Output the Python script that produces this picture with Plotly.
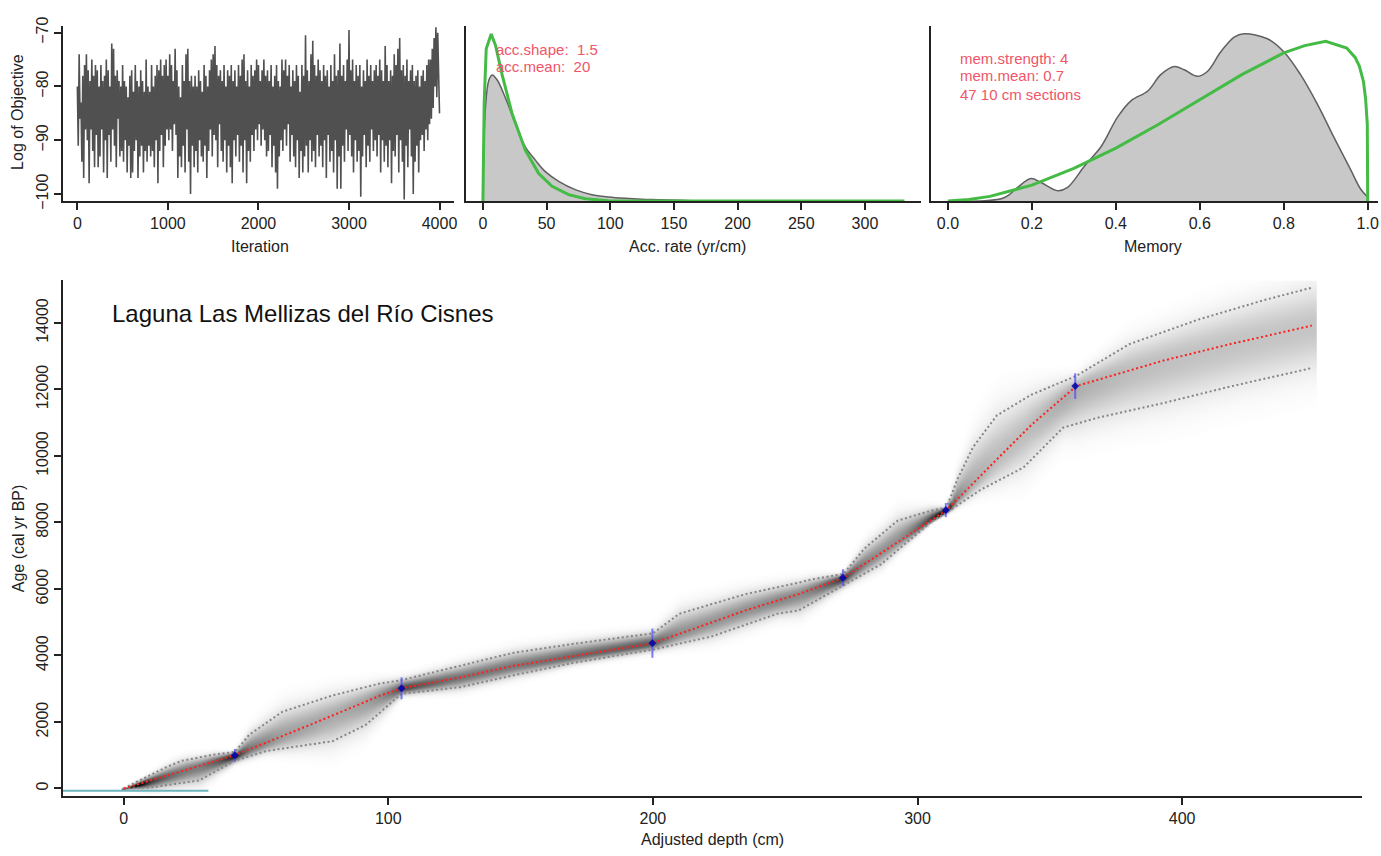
import numpy as np
import plotly.graph_objects as go

W, H = 1381, 856
FONT = "Liberation Sans, Arial, Helvetica, sans-serif"

# ---------------- data: MCMC trace (every 10 iterations) ----------------
iterations = list(range(0, 4001, 10))
log_objective = [
    -80, -91, -74, -86, -83, -94, -78, -97, -76, -88,
    -74, -90, -77, -98, -79, -88, -75, -92, -78, -95,
    -76, -89, -77, -95, -80, -93, -76, -88, -79, -96,
    -78, -90, -75, -97, -77, -89, -80, -94, -72, -88,
    -73, -91, -78, -95, -77, -86, -79, -93, -80, -92,
    -76, -94, -79, -90, -80, -96, -82, -91, -78, -97,
    -77, -96, -81, -92, -76, -90, -79, -97, -80, -93,
    -77, -91, -79, -96, -81, -92, -75, -94, -80, -91,
    -81, -93, -76, -92, -80, -95, -78, -90, -76, -98,
    -77, -92, -75, -89, -78, -95, -76, -91, -75, -88,
    -78, -90, -74, -88, -76, -92, -79, -87, -73, -89,
    -77, -97, -80, -93, -82, -95, -76, -91, -79, -96,
    -74, -88, -73, -94, -79, -100, -78, -91, -80, -95,
    -78, -92, -80, -96, -77, -90, -79, -93, -81, -94,
    -76, -91, -78, -97, -80, -92, -77, -88, -75, -93,
    -74, -89, -72.5, -90, -76, -95, -78, -87, -77, -92,
    -79, -94, -76, -90, -80, -96, -77, -91, -78, -95,
    -76, -98, -79, -90, -77, -93, -80, -89, -76, -94,
    -78, -91, -75, -96, -74, -90, -79, -98, -77, -92,
    -80, -94, -76, -89, -78, -92, -77, -88, -75, -90,
    -76, -87, -79, -91, -77, -88, -75, -90, -78, -93,
    -77, -92, -79, -89, -76, -95, -80, -91, -78, -96,
    -76, -99, -79, -93, -80, -90, -75, -92, -77, -88,
    -75, -91, -78, -87, -76, -94, -80, -89, -77, -93,
    -79, -95, -76, -90, -78, -97, -81, -92, -76, -96,
    -78, -93, -70.5, -91, -77, -96, -79, -90, -74, -94,
    -71.5, -92, -76, -95, -78, -89, -75, -93, -77, -91,
    -79, -95, -76, -90, -78, -97, -77, -89, -80, -94,
    -76, -92, -79, -96, -74, -90, -78, -99, -77, -93,
    -72, -99, -78, -91, -76, -94, -79, -88, -75, -92,
    -69.5, -89, -77, -93, -75, -96, -79, -90, -76, -94,
    -78, -92, -76, -100.5, -80, -93, -77, -89, -79, -95,
    -75, -91, -78, -94, -76, -88, -79, -92, -77, -90,
    -76, -93, -78, -89, -75, -96, -77, -90, -79, -94,
    -72.5, -91, -76, -95, -79, -90, -77, -98, -78, -92,
    -74, -93, -76, -89, -73, -96, -71, -90, -77, -94,
    -76, -101, -78, -91, -75, -95, -79, -88, -77, -93,
    -76, -100, -79, -94, -78, -91, -77, -96, -80, -90,
    -78, -89, -77, -92, -79, -88, -76, -90, -75, -87,
    -75, -86, -73, -84, -71, -80, -69, -82, -70, -76,
    -85,
]

# ---------------- data: accumulation rate ----------------
acc_post_x = [0, 2, 4.7, 7.3, 11.2, 17.7, 25.6, 33.4, 41.2, 49, 59.5, 72.5, 85.6, 98.6, 111.7, 124.7, 137.7, 163.8, 190]
acc_post_y = [0, 0.0203, 0.0263, 0.0274, 0.0263, 0.0224, 0.0167, 0.0117, 0.0089, 0.0064, 0.0043, 0.0025, 0.0014, 0.0009, 0.0006, 0.0004, 0.0003, 0.0001, 0]
acc_prior_x = [0, 1, 2.6, 6.5, 9.9, 15.1, 23, 33.4, 43.8, 54.3, 67.3, 80.4, 98.6, 130, 200, 331]
acc_prior_y = [0, 0.0215, 0.0331, 0.0363, 0.0338, 0.0274, 0.0189, 0.011, 0.006, 0.0032, 0.0014, 0.0005, 0.0001, 0, 0, 0]

# ---------------- data: memory ----------------
mem_post_x = [0.0, 0.087, 0.127, 0.143, 0.166, 0.198, 0.222, 0.262, 0.285, 0.325, 0.365, 0.404, 0.436, 0.476, 0.507, 0.539, 0.563, 0.594, 0.618, 0.65, 0.682, 0.705, 0.761, 0.8, 0.84, 0.88, 0.919, 0.959, 0.983, 1.0]
mem_post_y = [0, 0.004, 0.03, 0.07, 0.175, 0.287, 0.237, 0.133, 0.175, 0.445, 0.695, 1.069, 1.277, 1.402, 1.61, 1.714, 1.672, 1.589, 1.651, 1.901, 2.088, 2.13, 2.067, 1.901, 1.61, 1.235, 0.819, 0.403, 0.154, 0.05]
mem_prior_x = [0.0, 0.05, 0.1, 0.2, 0.3, 0.4, 0.5, 0.6, 0.7, 0.8, 0.85, 0.9, 0.95, 0.97, 0.98, 0.99, 0.995, 0.999, 1.0]
mem_prior_y = [0, 0.02, 0.06, 0.204, 0.416, 0.674, 0.973, 1.294, 1.61, 1.888, 1.98, 2.034, 1.95, 1.83, 1.72, 1.52, 1.3, 0.98, 0]

# ---------------- data: age-depth model ----------------
med_depth = [0, 42, 70, 96.5, 105, 127, 147, 175, 200, 235, 255, 272, 292.5, 311, 330, 343, 360, 393, 418, 449]
med_age = [0, 1002, 1900, 2780, 3012, 3340, 3684, 4040, 4370, 5355, 5845, 6337, 7418, 8372, 9900, 10930, 12100, 12870, 13360, 13920]

up_depth = [0, 3.5, 16, 22, 35, 42, 47.5, 60, 79, 96.5, 105, 127, 147, 170, 200, 210, 235, 255, 260, 272, 280, 292.5, 305, 311, 315, 321, 330, 343, 360, 380, 406, 431, 449]
up_age = [0, 147, 638, 835, 1032, 1100, 1621, 2309, 2800, 3150, 3260, 3684, 4076, 4350, 4666, 5255, 5845, 6189, 6287, 6450, 7220, 8055, 8350, 8450, 9283, 10265, 11220, 11840, 12408, 13360, 14097, 14686, 15060]

lo_depth = [0, 10, 28.6, 42, 54, 79, 91.5, 105, 127, 147, 170, 200, 222, 247, 255, 272, 286, 305, 311, 324, 340, 355, 368, 393, 418, 449]
lo_age = [0, 30, 245, 835, 1130, 1424, 1916, 2850, 3045, 3400, 3780, 4176, 4568, 5255, 5355, 6110, 6729, 8008, 8300, 8989, 9650, 10850, 11150, 11592, 12084, 12644]

date_depth = [42.0, 105.0, 199.8, 271.8, 310.7, 359.6]
date_age = [1000, 3012, 4370, 6337, 8372, 12100]
date_err = [190, 330, 440, 255, 210, 385]

surface_depth = [-23, 32]
surface_age = [-68, -68]

age_ticks = [0, 2000, 4000, 6000, 8000, 10000, 12000, 14000]
age_tick_labels = ["0", "2000", "4000", "6000", "8000", "10000", "12000", "14000"]
depth_ticks = [0, 100, 200, 300, 400]

title_text = "Laguna Las Mellizas del Río Cisnes"

# ---------------- helpers ----------------
def px_x(p):
    return p / W

def px_y(p):
    return 1 - p / H

axis_base = dict(showline=True, linecolor="#222", linewidth=1.5, ticks="outside", ticklen=7,
                 tickwidth=1.5, tickcolor="#222", showgrid=False, zeroline=False,
                 tickfont=dict(family=FONT, size=16, color="#222"), mirror=False)

fig = go.Figure()

# grey cloud of the age-depth model (density shading built from the read bounds)
dgrid = np.arange(0, 450.1, 1.5)
agrid = np.arange(-200, 15301, 30)
m = np.interp(dgrid, med_depth, med_age)
lo = np.interp(dgrid, lo_depth, lo_age)
up = np.interp(dgrid, up_depth, up_age)
sl = np.maximum((m - lo) / 1.5, 15)
su = np.maximum((up - m) / 1.5, 15)
hw = np.maximum((up - lo) / 2, 60)
A = agrid[:, None]
sd = np.where(A < m[None, :], sl[None, :], su[None, :])
dens = np.exp(-0.5 * ((A - m[None, :]) / sd) ** 2)
peak = np.minimum(1.0, 0.52 * (340.0 / hw) ** 0.65)
z = np.round(dens * peak[None, :], 3)
z[z < 0.004] = 0

fig.add_trace(go.Heatmap(x=dgrid, y=agrid, z=z, xaxis="x4", yaxis="y4", zmin=0, zmax=1,
                         colorscale=[[0, "rgb(255,255,255)"], [1, "rgb(0,0,0)"]],
                         showscale=False, zsmooth="best", hoverinfo="skip"))

# surface line
fig.add_trace(go.Scatter(x=surface_depth, y=surface_age, mode="lines", xaxis="x4", yaxis="y4",
                         line=dict(color="rgb(110,180,190)", width=2), hoverinfo="skip"))

dot = "2px,2.6px"
fig.add_trace(go.Scatter(x=up_depth, y=up_age, mode="lines", xaxis="x4", yaxis="y4",
                         line=dict(color="#858585", width=2, dash=dot)))
fig.add_trace(go.Scatter(x=lo_depth, y=lo_age, mode="lines", xaxis="x4", yaxis="y4",
                         line=dict(color="#858585", width=2, dash=dot)))
fig.add_trace(go.Scatter(x=med_depth, y=med_age, mode="lines", xaxis="x4", yaxis="y4",
                         line=dict(color="#ff2020", width=2, dash=dot)))

# dates
fig.add_trace(go.Scatter(x=date_depth, y=date_age, mode="markers", xaxis="x4", yaxis="y4",
                         marker=dict(symbol="line-ns", size=1, color="rgba(0,0,0,0)"),
                         error_y=dict(type="data", array=date_err, visible=True, width=0,
                                      thickness=2, color="rgba(80,80,255,0.75)")))
fig.add_trace(go.Scatter(x=date_depth, y=date_age, mode="markers", xaxis="x4", yaxis="y4",
                         marker=dict(symbol="diamond", size=6, color="rgba(0,0,170,0.85)",
                                     line=dict(width=0))))

# panel 1: trace
fig.add_trace(go.Scatter(x=iterations, y=log_objective, mode="lines", xaxis="x", yaxis="y",
                         line=dict(color="#505050", width=1.6)))

# panel 2: acc rate
fig.add_trace(go.Scatter(x=acc_post_x, y=acc_post_y, mode="lines", fill="tozeroy", xaxis="x2", yaxis="y2",
                         fillcolor="#c8c8c8", line=dict(color="#606060", width=1.5, shape="spline")))
fig.add_trace(go.Scatter(x=acc_prior_x, y=acc_prior_y, mode="lines", xaxis="x2", yaxis="y2",
                         line=dict(color="#44bb44", width=3)))

# panel 3: memory
fig.add_trace(go.Scatter(x=mem_post_x, y=mem_post_y, mode="lines", fill="tozeroy", xaxis="x3", yaxis="y3",
                         fillcolor="#c8c8c8", line=dict(color="#606060", width=1.5, shape="spline")))
fig.add_trace(go.Scatter(x=mem_prior_x, y=mem_prior_y, mode="lines", xaxis="x3", yaxis="y3",
                         line=dict(color="#44bb44", width=3)))

top_y = [px_y(196), px_y(17)]

fig.update_layout(
    width=W, height=H, autosize=False,
    margin=dict(l=0, r=0, t=0, b=0),
    paper_bgcolor="white", plot_bgcolor="white",
    showlegend=False,
    font=dict(family=FONT, color="#222"),
    xaxis=dict(axis_base, domain=[px_x(63), px_x(455)], range=[-160, 4160],
               tickvals=[0, 1000, 2000, 3000, 4000], anchor="y"),
    yaxis=dict(axis_base, domain=top_y, range=[-101.3, -68.7], tickvals=[-100, -90, -80, -70],
               tickangle=-90, anchor="x"),
    xaxis2=dict(axis_base, domain=[px_x(467), px_x(923)], range=[-13.3, 344],
                tickvals=[0, 50, 100, 150, 200, 250, 300], anchor="y2"),
    yaxis2=dict(axis_base, domain=top_y, range=[0, 0.0381], ticks="", showticklabels=False, anchor="x2"),
    xaxis3=dict(axis_base, domain=[px_x(933), 1.0], range=[-0.0404, 1.0245],
                tickvals=[0, 0.2, 0.4, 0.6, 0.8, 1.0], tickformat=".1f", anchor="y3"),
    yaxis3=dict(axis_base, domain=top_y, range=[0, 2.234], ticks="", showticklabels=False, anchor="x3"),
    xaxis4=dict(axis_base, domain=[px_x(63), px_x(1365)], range=[-23, 468],
                tickvals=depth_ticks, anchor="y4"),
    yaxis4=dict(axis_base, domain=[px_y(803), px_y(277)], range=[-227, 15276],
                tickvals=age_ticks, ticktext=age_tick_labels, tickangle=-90, anchor="x4"),
)

red = "rgb(240,85,105)"
ann = [
    dict(text="Log of Objective", x=px_x(18), y=px_y(105), textangle=-90, font=dict(size=16)),
    dict(text="Iteration", x=px_x(261), y=px_y(242), font=dict(size=16)),
    dict(text="Acc. rate (yr/cm)", x=px_x(689), y=px_y(242), font=dict(size=16)),
    dict(text="Memory", x=px_x(1156), y=px_y(242), font=dict(size=16)),
    dict(text="Age (cal yr BP)", x=px_x(18), y=px_y(540), textangle=-90, font=dict(size=16)),
    dict(text="Adjusted depth (cm)", x=px_x(714), y=px_y(847), font=dict(size=16)),
    dict(text=title_text, x=px_x(110), y=px_y(311), xanchor="left", font=dict(size=24, color="#111")),
    dict(text="acc.shape:  1.5", x=px_x(495), y=px_y(41), xanchor="left", font=dict(size=15, color=red)),
    dict(text="acc.mean:  20", x=px_x(495), y=px_y(59), xanchor="left", font=dict(size=15, color=red)),
    dict(text="mem.strength: 4", x=px_x(960), y=px_y(50), xanchor="left", font=dict(size=15, color=red)),
    dict(text="mem.mean: 0.7", x=px_x(960), y=px_y(68), xanchor="left", font=dict(size=15, color=red)),
    dict(text="47 10 cm sections", x=px_x(960), y=px_y(87), xanchor="left", font=dict(size=15, color=red)),
]
for a in ann:
    a.setdefault("xanchor", "center")
    a.update(xref="paper", yref="paper", yanchor="middle", showarrow=False)
    a["font"] = dict(family=FONT, color=a["font"].get("color", "#222"), size=a["font"]["size"])
fig.update_layout(annotations=ann)

fig.write_html("out.html", config={"displayModeBar": False},
               post_script="document.body.style.margin='0px';document.body.style.overflow='hidden';")
